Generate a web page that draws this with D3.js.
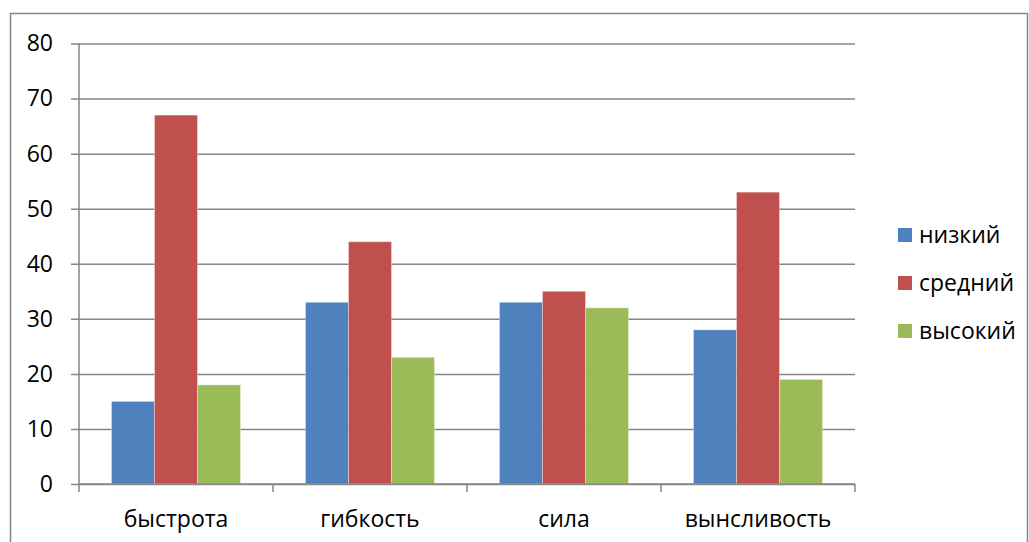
<!DOCTYPE html>
<html>
<head>
<meta charset="utf-8">
<script src="https://cdn.jsdelivr.net/npm/d3@7"></script>
<style>
  html, body { margin: 0; padding: 0; background: #fff; }
  svg { display: block; }
  text { font-family: "Open Sans", "Liberation Sans", sans-serif; fill: #000; }
</style>
</head>
<body>
<svg id="chart" width="1029" height="542"></svg>
<script>
// Results by quality: share of pupils at each level
const categories = ["быстрота", "гибкость", "сила", "вынсливость"];
const seriesNames = ["низкий", "средний", "высокий"];
const lowValues = [15, 33, 33, 28];
const midValues = [67, 44, 35, 53];
const highValues = [18, 23, 32, 19];
const yTicks = [0, 10, 20, 30, 40, 50, 60, 70, 80];
const colors = ["#4F81BD", "#C0504D", "#9BBB59"];

const series = [lowValues, midValues, highValues];

const svg = d3.select("#chart");
const plot = { left: 79, right: 855, top: 43.5, bottom: 484 };
const fontSize = 23;

// outer chart frame
svg.append("rect")
  .attr("x", 10.5).attr("y", 13.5)
  .attr("width", 1017).attr("height", 540)
  .attr("fill", "none").attr("stroke", "#868686").attr("stroke-width", 1.5);

const x0 = d3.scaleBand().domain(categories).range([plot.left, plot.right]).paddingInner(0).paddingOuter(0);
const x1 = d3.scaleBand().domain(seriesNames).range([0, x0.bandwidth()]).paddingInner(0).paddingOuter(0.755);
const y = d3.scaleLinear().domain([0, 80]).range([plot.bottom, plot.top]);

// horizontal gridlines with left tick marks
const yAxis = d3.axisLeft(y).tickValues(yTicks).tickSize(-(plot.right - plot.left)).tickPadding(26);
const gy = svg.append("g").attr("transform", `translate(${plot.left},0)`).call(yAxis);
gy.select(".domain").remove();
gy.selectAll(".tick line")
  .attr("x1", -8)
  .attr("stroke", "#868686").attr("stroke-width", 1.5);
gy.selectAll(".tick text")
  .attr("font-size", fontSize).attr("font-family", "\"Open Sans\", sans-serif")
  .attr("fill", "#000");

// vertical axis line
svg.append("line")
  .attr("x1", plot.left).attr("x2", plot.left)
  .attr("y1", plot.top).attr("y2", plot.bottom)
  .attr("stroke", "#868686").attr("stroke-width", 1.5);

// bars
const groups = svg.append("g").selectAll("g")
  .data(categories)
  .join("g")
  .attr("transform", d => `translate(${x0(d)},0)`);

groups.selectAll("rect")
  .data((c, i) => seriesNames.map((s, k) => ({ s, k, v: series[k][i] })))
  .join("rect")
  .attr("x", d => x1(d.s))
  .attr("y", d => y(d.v))
  .attr("width", x1.bandwidth())
  .attr("height", d => y(0) - y(d.v))
  .attr("fill", d => colors[d.k])
  .attr("stroke", "rgba(255,255,255,0.35)")
  .attr("stroke-width", 1);

// category axis with boundary ticks
const gx = svg.append("g");
gx.append("line")
  .attr("x1", plot.left).attr("x2", plot.right)
  .attr("y1", plot.bottom).attr("y2", plot.bottom)
  .attr("stroke", "#868686").attr("stroke-width", 1.5);
const bounds = categories.map(c => x0(c)).concat([x0(categories[categories.length - 1]) + x0.bandwidth()]);
gx.selectAll("line.b")
  .data(bounds)
  .join("line")
  .attr("class", "b")
  .attr("x1", d => d).attr("x2", d => d)
  .attr("y1", plot.bottom).attr("y2", plot.bottom + 8)
  .attr("stroke", "#868686").attr("stroke-width", 1.5);
gx.selectAll("text")
  .data(categories)
  .join("text")
  .attr("x", d => x0(d) + x0.bandwidth() / 2)
  .attr("y", 527)
  .attr("text-anchor", "middle")
  .attr("font-size", fontSize)
  .text(d => d);

// legend
const legend = svg.append("g").attr("transform", "translate(898,0)");
const ly = d3.scalePoint().domain(seriesNames).range([235, 331]);
seriesNames.forEach((s, k) => {
  legend.append("rect")
    .attr("x", 0).attr("y", ly(s) - 7)
    .attr("width", 14).attr("height", 14)
    .attr("fill", colors[k]);
  legend.append("text")
    .attr("x", 21).attr("y", ly(s))
    .attr("dy", "0.35em")
    .attr("font-size", fontSize)
    .text(s);
});
</script>
</body>
</html>
